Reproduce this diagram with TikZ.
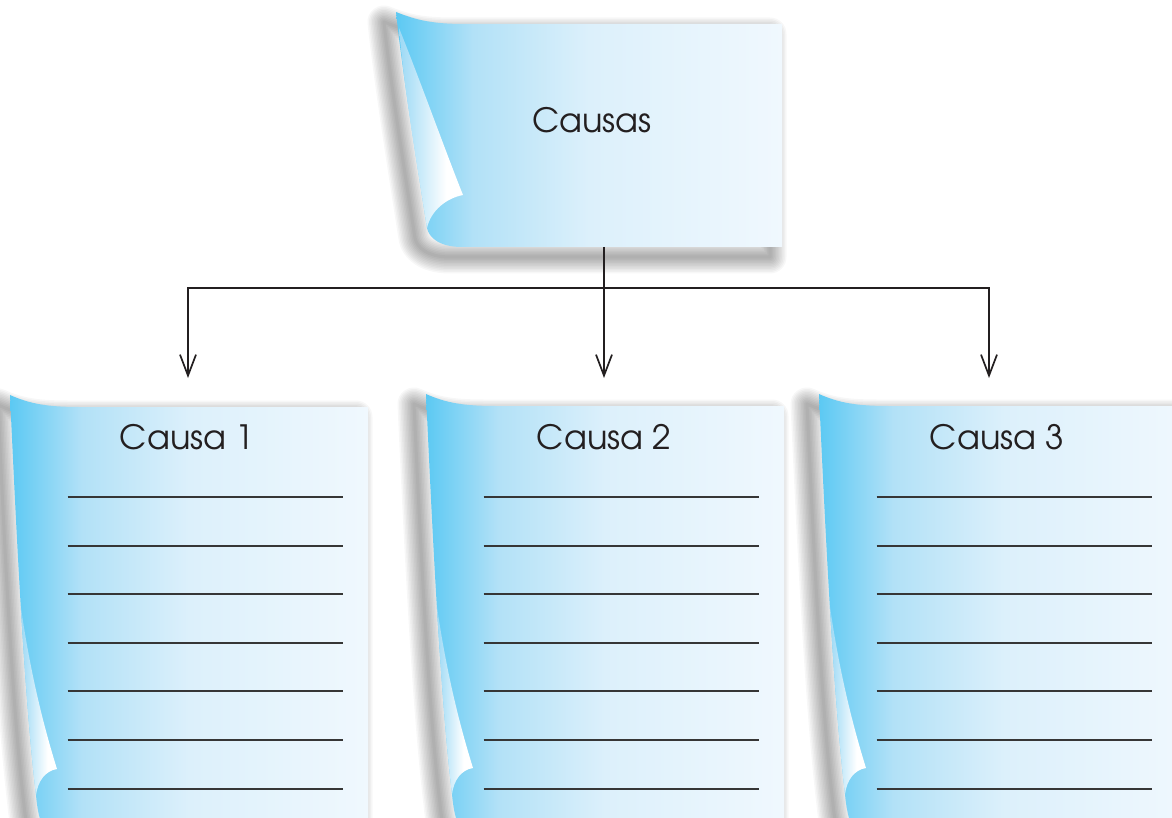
\documentclass[tikz,border=0pt]{standalone}
\usepackage{fontspec}
\setmainfont{texgyreadventor-regular.otf}
\usetikzlibrary{arrows.meta}
\definecolor{cyA}{HTML}{5CC9F3}
\definecolor{cyB}{HTML}{B2E1F7}
\definecolor{cyC}{HTML}{DCF0FB}
\definecolor{cyD}{HTML}{F0F8FE}
\definecolor{flA}{HTML}{9CD9F5}
\definecolor{ink}{HTML}{231F20}
\definecolor{rule}{HTML}{363636}
\pgfdeclarehorizontalshading{sheetshade}{100bp}{color(0bp)=(cyA); color(25bp)=(cyA); color(35bp)=(cyB); color(50bp)=(cyC); color(75bp)=(cyD); color(100bp)=(cyD)}
\pgfdeclarehorizontalshading{flapshade}{100bp}{color(0bp)=(flA); color(25bp)=(flA); color(62bp)=(white); color(100bp)=(white)}
\tikzset{
  sheetbody/.style={shading=sheetshade},
  flap/.style={shading=flapshade},
  ruled/.style={draw=rule, line width=1.8pt},
  lbl/.style={text=ink, font=\fontsize{33.5}{40}\selectfont, inner sep=0pt},
  conn/.style={draw=ink, line width=2pt},
  arr/.style={conn, -{Straight Barb[length=21pt, width=16pt, line width=1.7pt]}},
  shadowlayer/.style={draw=black, line width=#1, line join=round, draw opacity=0.03, xshift=-12pt, yshift=-10pt},
}
\newcommand\softshadow[1]{%
  \foreach \w in {3,6,...,33} {\path[shadowlayer=\w pt] #1;}
}
\newcommand\bottomsheet[3]{%
  \softshadow{(#1,#2) .. controls (#1+20,#2+9) and (#1+38,#2+12) .. (#1+70,#2+12) -- (#3,#2+12) -- (#3,#2+460) -- (#1+60,#2+460) .. controls (#1+36,#2+455) and (#1+28,#2+425) .. (#1+26,#2+400) .. controls (#1+14,#2+300) and (#1+6,#2+130) .. (#1,#2) -- cycle}
  \path[sheetbody] (#1,#2) .. controls (#1+20,#2+9) and (#1+38,#2+12) .. (#1+70,#2+12) -- (#3,#2+12) -- (#3,#2+460) -- (#1+60,#2+460) .. controls (#1+36,#2+455) and (#1+28,#2+425) .. (#1+26,#2+400) .. controls (#1+14,#2+300) and (#1+6,#2+130) .. (#1,#2) -- cycle;
  \path[flap] (#1+10.75,#2+211.25) .. controls (#1+22,#2+290) and (#1+38,#2+345) .. (#1+47,#2+374) .. controls (#1+35,#2+376) and (#1+28,#2+386) .. (#1+26,#2+400) .. controls (#1+20,#2+350) and (#1+15,#2+282.5) .. (#1+10.75,#2+211.25) -- cycle;
  \foreach \yy in {497,546,594,643,691,740,789} {\draw[ruled] (#1+57.5,\yy) -- (#1+332.5,\yy);}
}
\begin{document}
\begin{tikzpicture}[x=1pt,y=-1pt]
\clip (0,0) rectangle (1172,818);
\fill[white] (0,0) rectangle (1172,818);
% top sheet
\softshadow{(396,12) .. controls (416,20) and (432,24) .. (465,24) -- (782,24) -- (782,247) -- (462,247) .. controls (440,247) and (429,238) .. (427,228) .. controls (418,170) and (402,70) .. (396,12) -- cycle}
\path[sheetbody] (396,12) .. controls (416,20) and (432,24) .. (465,24) -- (782,24) -- (782,247) -- (462,247) .. controls (440,247) and (429,238) .. (427,228) .. controls (418,170) and (402,70) .. (396,12) -- cycle;
\path[flap] (399,28) .. controls (420,80) and (445,150) .. (463,195) .. controls (447,198) and (431,210) .. (427,228) .. controls (418,170) and (404,90) .. (399,28) -- cycle;
\node[lbl] (causas) at (592,120) {Causas};
% bottom sheets
\bottomsheet{10}{395}{368}
\bottomsheet{426}{394}{784}
\bottomsheet{819}{394}{1190}
\node[lbl] (c1) at (187,437) {Causa 1};
\node[lbl] (c2) at (604,437) {Causa 2};
\node[lbl] (c3) at (997,437) {Causa 3};
% connectors
\coordinate (tb) at (604,247);
\coordinate (j) at (604,288);
\coordinate (e1) at (188,378);
\coordinate (e2) at (604,378);
\coordinate (e3) at (989,378);
\draw[arr] (tb) -- (e2);
\draw[arr] (j) -| (e1);
\draw[arr] (j) -| (e3);
\end{tikzpicture}
\end{document}
